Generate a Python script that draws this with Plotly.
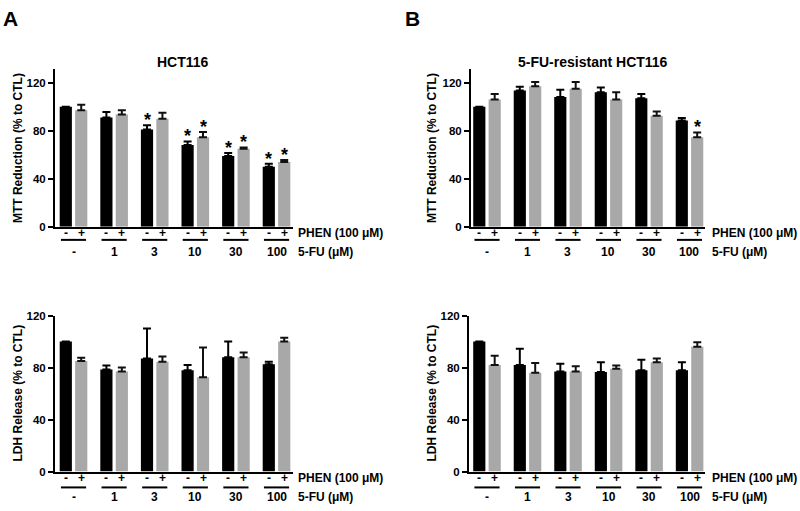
import plotly.graph_objects as go

W, H = 800, 511
FONT = "Liberation Sans"

groups = ["-", "1", "3", "10", "30", "100"]

# Panel A, MTT
a_mtt_ctl = [100, 91, 81, 68, 59, 50]
a_mtt_ctl_err = [0, 4.5, 3.5, 3, 2.5, 2.5]
a_mtt_phen = [97, 93.5, 90, 74.5, 65, 54]
a_mtt_phen_err = [4.5, 3.5, 5, 4.5, 1, 1.5]
a_mtt_ctl_sig = [0, 0, 1, 1, 1, 1]
a_mtt_phen_sig = [0, 0, 0, 1, 1, 1]

# Panel B, MTT
b_mtt_ctl = [100, 113.5, 108, 112, 107, 88.5]
b_mtt_ctl_err = [0, 3, 6, 4, 3.5, 2]
b_mtt_phen = [106, 117, 115, 106, 92.5, 74.5]
b_mtt_phen_err = [4.5, 3.5, 5.5, 6, 3.5, 4]
b_mtt_ctl_sig = [0, 0, 0, 0, 0, 0]
b_mtt_phen_sig = [0, 0, 0, 0, 0, 1]

# Panel A, LDH
a_ldh_ctl = [100, 78.5, 87, 78, 88, 82.5]
a_ldh_ctl_err = [0, 3, 23, 4, 12, 2]
a_ldh_phen = [85, 77, 84.5, 72.5, 88, 100]
a_ldh_phen_err = [2.5, 3, 4, 23, 3.5, 3]

# Panel B, LDH
b_ldh_ctl = [100, 82, 77, 76.5, 78, 78]
b_ldh_ctl_err = [0, 12.5, 6, 7.5, 8, 6]
b_ldh_phen = [82, 76, 77, 79, 84, 96]
b_ldh_phen_err = [7, 7.5, 4, 2.5, 3, 3.5]

yticks_mtt = [0, 40, 80, 120]
yticks_ldh = [0, 40, 80, 120]

BLACK = "#000000"
GRAY = "#a8a8a8"
OFF = 0.19
BW = 0.3


def py(p):
    return 1 - p / H


def pxx(p):
    return p / W


def txt(x, y, text, size, xref="paper", yref="paper", xanchor="center", yanchor="middle", **kw):
    d = dict(x=x, y=y, xref=xref, yref=yref, text=text, showarrow=False,
             xanchor=xanchor, yanchor=yanchor,
             font=dict(family=FONT, size=size, color=BLACK))
    d.update(kw)
    return d


panels = [
    dict(ctl=a_mtt_ctl, ctl_e=a_mtt_ctl_err, phen=a_mtt_phen, phen_e=a_mtt_phen_err,
         ctl_sig=a_mtt_ctl_sig, phen_sig=a_mtt_phen_sig,
         xpx=(55, 293), ypx=(65, 226), xr=(-0.456, 5.406), yr=(0, 131), yt=yticks_mtt,
         ytitle="MTT Reduction (% to CTL)", ytx=18, lab=(232, 239.5, 252), labx=296),
    dict(ctl=b_mtt_ctl, ctl_e=b_mtt_ctl_err, phen=b_mtt_phen, phen_e=b_mtt_phen_err,
         ctl_sig=b_mtt_ctl_sig, phen_sig=b_mtt_phen_sig,
         xpx=(471, 705), ypx=(65, 226), xr=(-0.395, 5.383), yr=(0, 131), yt=yticks_mtt,
         ytitle="MTT Reduction (% to CTL)", ytx=432, lab=(232, 239.5, 252), labx=710),
    dict(ctl=a_ldh_ctl, ctl_e=a_ldh_ctl_err, phen=a_ldh_phen, phen_e=a_ldh_phen_err,
         ctl_sig=None, phen_sig=None,
         xpx=(55, 293), ypx=(317, 476.7), xr=(-0.456, 5.406), yr=(0, 120), yt=yticks_ldh,
         ytitle="LDH Release (% to CTL)", ytx=18, lab=(483, 493, 503), labx=296),
    dict(ctl=b_ldh_ctl, ctl_e=b_ldh_ctl_err, phen=b_ldh_phen, phen_e=b_ldh_phen_err,
         ctl_sig=None, phen_sig=None,
         xpx=(469, 705), ypx=(317, 476.7), xr=(-0.444, 5.38), yr=(0, 120), yt=yticks_ldh,
         ytitle="LDH Release (% to CTL)", ytx=432, lab=(483, 493, 503), labx=710),
]

fig = go.Figure()
annotations = []
shapes = []
layout = {}

for k, p in enumerate(panels):
    n = "" if k == 0 else str(k + 1)
    xa, ya = "x" + n, "y" + n
    idx = list(range(len(groups)))
    xb = [i - OFF for i in idx]
    xg = [i + OFF for i in idx]
    fig.add_trace(go.Bar(x=xb, y=p["ctl"], width=BW, marker=dict(color=BLACK, line_width=0),
                         error_y=dict(type="data", array=p["ctl_e"], arrayminus=[0] * 6,
                                      color=BLACK, thickness=2, width=4),
                         xaxis=xa, yaxis=ya, showlegend=False, hoverinfo="skip"))
    fig.add_trace(go.Bar(x=xg, y=p["phen"], width=BW, marker=dict(color=GRAY, line_width=0),
                         error_y=dict(type="data", array=p["phen_e"], arrayminus=[0] * 6,
                                      color="#111111", thickness=2, width=4),
                         xaxis=xa, yaxis=ya, showlegend=False, hoverinfo="skip"))
    layout["xaxis" + n] = dict(domain=[pxx(p["xpx"][0]), pxx(p["xpx"][1])], range=list(p["xr"]),
                               anchor=ya, showline=True, linewidth=2, linecolor=BLACK,
                               showticklabels=False, ticks="", showgrid=False, zeroline=False,
                               fixedrange=True)
    layout["yaxis" + n] = dict(domain=[py(p["ypx"][1]), py(p["ypx"][0])], range=list(p["yr"]),
                               anchor=xa, showline=True, linewidth=2, linecolor=BLACK,
                               ticks="outside", ticklen=5, tickwidth=2, tickcolor=BLACK,
                               tickvals=p["yt"], showgrid=False, zeroline=False, fixedrange=True,
                               tickfont=dict(family=FONT, size=11.5, color=BLACK, weight="bold"))
    # significance stars
    for sig, xs, vals, errs in ((p["ctl_sig"], xb, p["ctl"], p["ctl_e"]),
                                (p["phen_sig"], xg, p["phen"], p["phen_e"])):
        if sig is None:
            continue
        for s, x, v, e in zip(sig, xs, vals, errs):
            if s:
                annotations.append(txt(x, v + e, "<b>*</b>", 18, xref=xa, yref=ya, yshift=5))
    # +/- labels, underlines, 5-FU labels
    ysign, yline, ygrp = p["lab"]
    for i in idx:
        annotations.append(txt(xb[i], py(ysign), "<b>-</b>", 12, xref=xa))
        annotations.append(txt(xg[i], py(ysign), "<b>+</b>", 12, xref=xa))
        shapes.append(dict(type="line", xref=xa, yref="paper", x0=i - 0.31, x1=i + 0.31,
                           y0=py(yline), y1=py(yline), line=dict(color=BLACK, width=2)))
        annotations.append(txt(i, py(ygrp), "<b>%s</b>" % groups[i], 12, xref=xa))
    annotations.append(txt(pxx(p["labx"]), py(ysign), "<b>PHEN (100 μM)</b>", 12, xanchor="left"))
    annotations.append(txt(pxx(p["labx"]), py(ygrp), "<b>5-FU (μM)</b>", 12, xanchor="left"))
    annotations.append(txt(pxx(p["ytx"]), py((p["ypx"][0] + p["ypx"][1]) / 2),
                           "<b>%s</b>" % p["ytitle"], 12, textangle=-90))

# titles and panel letters
annotations.append(txt(pxx(183), py(57), "<b>HCT116</b>", 14))
annotations.append(txt(pxx(593), py(57), "<b>5-FU-resistant HCT116</b>", 14))
annotations.append(txt(pxx(10), py(13), "<b>A</b>", 21))
annotations.append(txt(pxx(412), py(13), "<b>B</b>", 21))

fig.update_layout(width=W, height=H, margin=dict(l=0, r=0, t=0, b=0),
                  paper_bgcolor="white", plot_bgcolor="white", barmode="overlay",
                  hovermode=False, annotations=annotations, shapes=shapes, **layout)

fig.write_html("out.html", config={"displayModeBar": False, "staticPlot": True},
               post_script="document.body.style.margin='0';")
